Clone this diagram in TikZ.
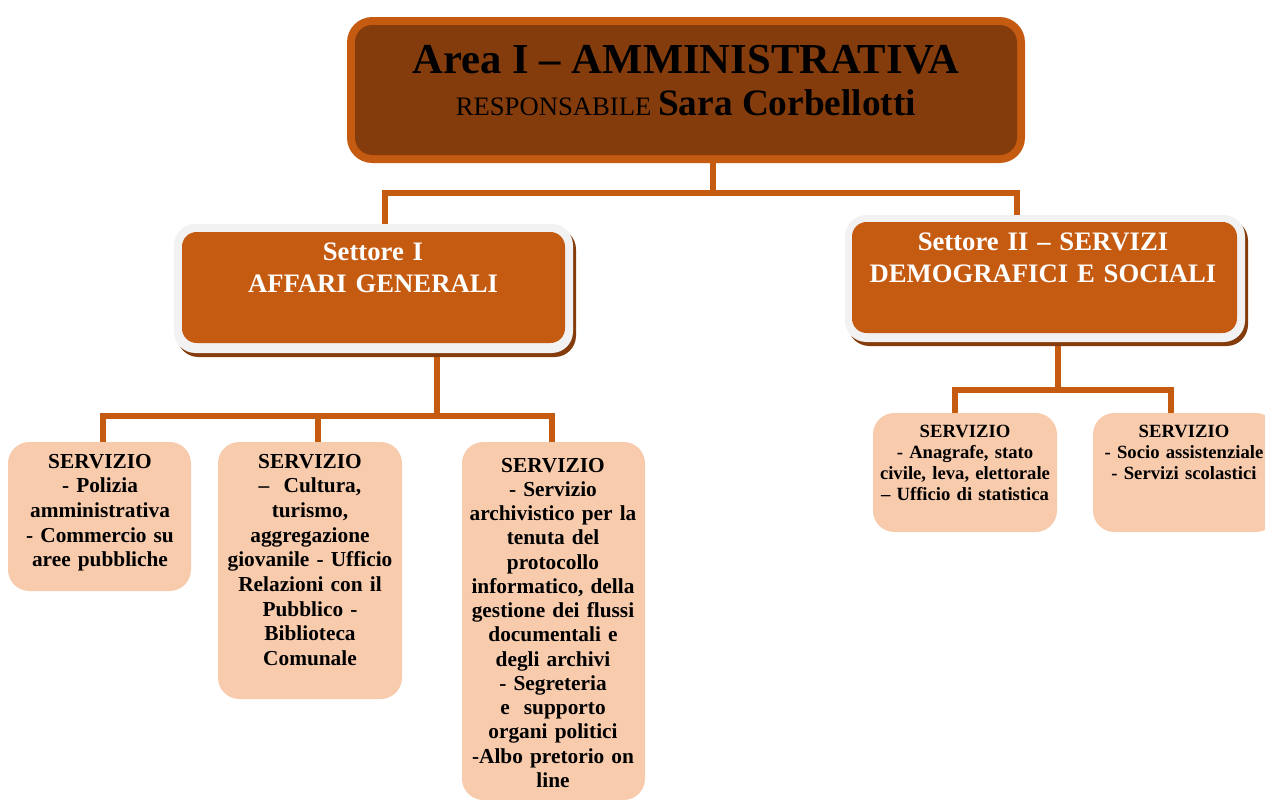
\documentclass[tikz,border=0pt]{standalone}
\usepackage{fontspec}
\setmainfont{Liberation Serif}
\usetikzlibrary{fit}
\pgfdeclarelayer{background}
\pgfsetlayers{background,main}
\definecolor{dkbrown}{HTML}{843C0C}
\definecolor{orng}{HTML}{C55A11}
\definecolor{peach}{HTML}{F8CBAD}
\definecolor{ltgray}{HTML}{F2F2F2}
\tikzset{
  box/.style={inner sep=0pt, outer sep=0pt, draw=none},
  topframe/.style={box, fill=orng, rounded corners=19pt},
  topinner/.style={box, fill=dkbrown, rounded corners=13pt},
  secshadow/.style={box, fill=dkbrown, rounded corners=16pt},
  secframe/.style={box, fill=ltgray, rounded corners=16pt},
  secinner/.style={box, fill=orng, rounded corners=11pt},
  servbox/.style={box, fill=peach, rounded corners=16pt},
  conn/.style={draw=orng, line width=4.5pt, line join=miter},
  sectext/.style={text=white, font=\fontsize{20}{24}\selectfont\bfseries, align=center, anchor=base, text width=300pt, inner sep=0pt},
  servtext/.style={font=\fontsize{16}{18.5}\selectfont\bfseries, align=center, anchor=base, text width=160pt, inner sep=0pt},
  servsmall/.style={font=\fontsize{14}{15.8}\selectfont\bfseries, align=center, anchor=base, text width=160pt, inner sep=0pt},
}
\begin{document}
\begin{tikzpicture}[x=0.75pt,y=-0.75pt]
\useasboundingbox (0,0) rectangle (1265,800);

% top box
\node[topframe, fit={(347,17)(1025,163)}] (topframe) {};
\node[topinner, fit={(355,25)(1017,155)}] (topinner) {};
\node[font=\fontsize{32}{38}\selectfont\bfseries, anchor=base, inner sep=0pt] (ttitle) at (686,73) {Area I – AMMINISTRATIVA};
\node[anchor=base, inner sep=0pt] (tresp) at (686,115) {\fontsize{20}{24}\selectfont RESPONSABILE \fontsize{28}{32}\selectfont\bfseries Sara Corbellotti};

% Settore I
\node[secshadow, fit={(177,228)(576,357)}] (s1shadow) {};
\node[secframe, fit={(174,224)(573,353)}] (s1frame) {};
\node[secinner, fit={(182,232)(565,343)}] (s1inner) {};
\node[sectext] (s1text) at (373,260) {Settore I\\AFFARI GENERALI};

% Settore II
\node[secshadow, fit={(848,219)(1248,346)}] (s2shadow) {};
\node[secframe, fit={(845,215)(1245,342)}] (s2frame) {};
\node[secinner, fit={(852,222)(1237,333)}] (s2inner) {};
\node[sectext] (s2text) at (1043,250) {Settore II – SERVIZI\\DEMOGRAFICI E SOCIALI};

% service boxes
\node[servbox, fit={(8,442)(191,591)}] (sv1) {};
\node[servbox, fit={(218,442)(402,699)}] (sv2) {};
\node[servbox, fit={(462,442)(645,800)}] (sv3) {};
\node[servbox, fit={(873,413)(1057,532)}] (sv4) {};
\node[servbox, fit={(1093,413)(1277,532)}] (sv5) {};

\node[servtext] (sv1text) at (100,468) {SERVIZIO\\- Polizia\\amministrativa\\- Commercio su\\aree pubbliche};
\node[servtext] (sv2text) at (310,468) {SERVIZIO\\–\ \ Cultura,\\turismo,\\aggregazione\\giovanile - Ufficio\\Relazioni con il\\Pubblico -\\Biblioteca\\Comunale};
\node[servtext, font=\fontsize{16}{18.2}\selectfont\bfseries] (sv3text) at (553,472) {SERVIZIO\\- Servizio\\archivistico per la\\tenuta del\\protocollo\\informatico, della\\gestione dei flussi\\documentali e\\degli archivi\\- Segreteria\\e\ \ supporto\\organi politici\\-Albo pretorio on\\line};
\node[servsmall] (sv4text) at (965,437) {SERVIZIO\\- Anagrafe, stato\\civile, leva, elettorale\\– Ufficio di statistica};
\node[servsmall] (sv5text) at (1184,437) {SERVIZIO\\- Socio assistenziale\\- Servizi scolastici};

% junction coordinates
\coordinate (jA) at (713,193);
\coordinate (b1) at (385,193);
\coordinate (b2) at (1017,193);
\coordinate (jB) at (437,416);
\coordinate (c1) at (103,416);
\coordinate (c2) at (318,416);
\coordinate (c3) at (552,416);
\coordinate (jC) at (1058,390);
\coordinate (d1) at (955,390);
\coordinate (d2) at (1171,390);

\begin{pgfonlayer}{background}
  \draw[conn] (topframe.south -| jA) -- (jA);
  \draw[conn] (s1frame.north -| b1) |- (b2) -- (s2frame.north -| b2);
  \draw[conn] (s1frame.south -| jB) -- (jB);
  \draw[conn] (sv1.north -| c1) |- (c3) -- (sv3.north -| c3);
  \draw[conn] (c2) -- (sv2.north -| c2);
  \draw[conn] (s2frame.south -| jC) -- (jC);
  \draw[conn] (sv4.north -| d1) |- (d2) -- (sv5.north -| d2);
\end{pgfonlayer}
\end{tikzpicture}
\end{document}
